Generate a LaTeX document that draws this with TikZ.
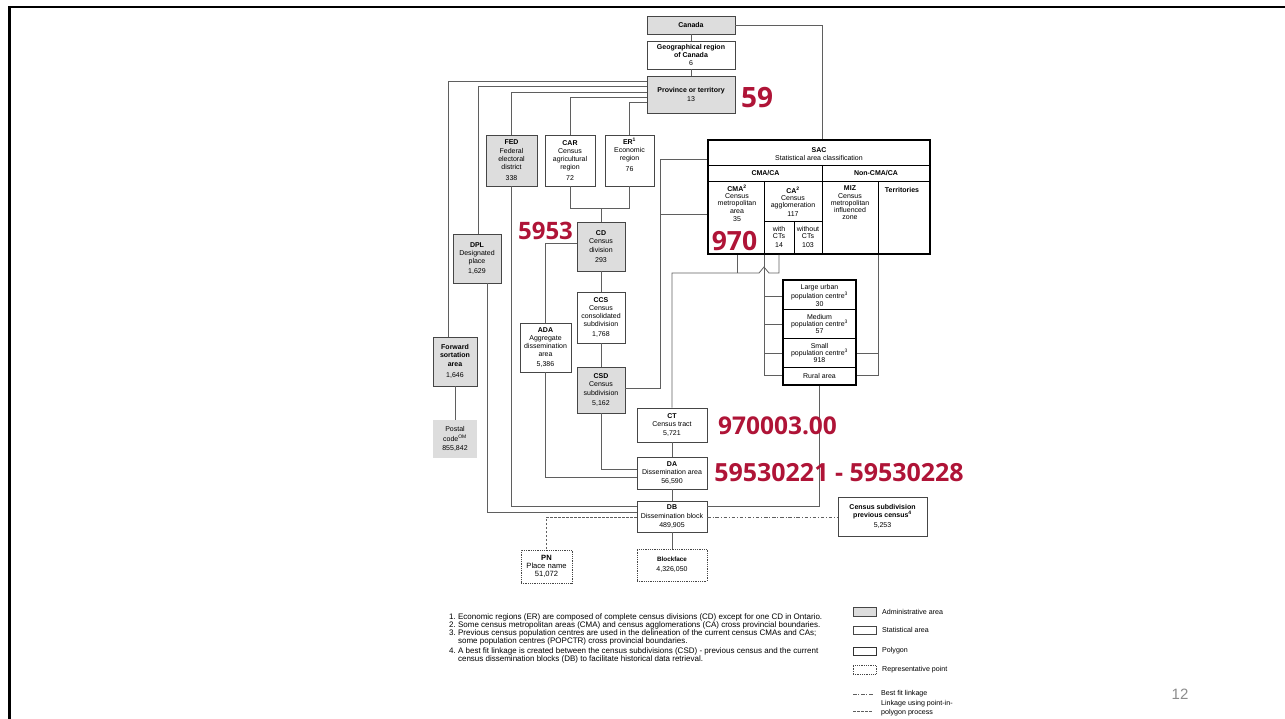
\documentclass[tikz,border=0pt]{standalone}
\usepackage{fontspec}
\setmainfont{Liberation Sans}
\newfontfamily\redfont{Open Sans}
\definecolor{admfill}{RGB}{221,221,221}
\definecolor{boxc}{RGB}{70,70,70}
\definecolor{linec}{RGB}{95,95,95}
\definecolor{redlab}{RGB}{175,20,55}
\definecolor{pagegray}{RGB}{140,140,140}
\begin{document}
\begin{tikzpicture}[x=1pt,y=-1pt,
  box/.style={draw=boxc,line width=0.75pt,inner sep=0pt,align=center,font=\fontsize{7}{8.2}\selectfont},
  adm/.style={box,fill=admfill},
  stat/.style={box,fill=white},
  rep/.style={box,draw=boxc,dash pattern=on 0.7pt off 1.1pt},
  heavy/.style={draw=black,line width=1.5pt,inner sep=0pt},
  lbl/.style={inner sep=0pt,align=center,font=\fontsize{7}{7.2}\selectfont},
  lgtext/.style={inner sep=0pt,anchor=west,align=left,font=\fontsize{7.1}{8.5}\selectfont},
  conn/.style={draw=linec,line width=0.8pt},
  inner/.style={draw=black,line width=0.9pt},
  redlbl/.style={inner sep=0pt,text=redlab,font={\redfont\bfseries\fontsize{25}{25}\selectfont}},
  dashdotline/.style={draw=linec,line width=0.8pt,dash pattern=on 3.5pt off 1.8pt on 1pt off 1.8pt},
  dashline/.style={draw=linec,line width=0.8pt,dash pattern=on 2.5pt off 1.5pt}]
\useasboundingbox (0,0) rectangle (1285,719);

% slide frame
\coordinate (frTR) at (1285,7);
\coordinate (frTL) at (9.5,7);
\coordinate (frBL) at (9.5,719);
\draw[line width=2.5pt,draw=black] (frTR) -- (frTL) -- (frBL);

% ---------- boxes ----------
\node[adm,minimum width=88pt,minimum height=18pt] (canada) at (691,25) {\textbf{Canada}};
\node[stat,minimum width=88pt,minimum height=28pt] (geo) at (691,55) {\textbf{Geographical region}\\\textbf{of Canada}\\6};
\node[adm,minimum width=88pt,minimum height=37pt] (prov) at (691,94.5) {\textbf{Province or territory}\\13};

\node[adm,minimum width=51pt,minimum height=51pt] (fed) at (511.5,160.5) {\textbf{FED}\\Federal\\electoral\\district\\[3pt]338};
\node[stat,minimum width=50pt,minimum height=51pt] (car) at (570,160.5) {\textbf{CAR}\\Census\\agricultural\\region\\[3pt]72};
\node[stat,minimum width=49pt,minimum height=51pt] (er) at (629.5,160.5) {\textbf{ER\textsuperscript{1}}\\Economic\\region\\[3pt]76\\[3pt]};

\node[adm,minimum width=48pt,minimum height=49pt] (cd) at (601,246.5) {\textbf{CD}\\Census\\division\\[2pt]293};
\node[stat,minimum width=48pt,minimum height=51pt] (ccs) at (601,317.5) {\textbf{CCS}\\Census\\consolidated\\subdivision\\[2pt]1,768};
\node[adm,minimum width=48pt,minimum height=46pt] (csd) at (601,390) {\textbf{CSD}\\Census\\subdivision\\[2pt]5,162};

\node[adm,minimum width=48pt,minimum height=49pt] (dpl) at (477,258.5) {\textbf{DPL}\\Designated\\place\\[2pt]1,629};
\node[adm,minimum width=44pt,minimum height=49pt] (fsa) at (455,361.5) {\textbf{Forward}\\\textbf{sortation}\\\textbf{area}\\[3pt]1,646};
\node[box,draw=none,fill=admfill,minimum width=44pt,minimum height=38pt,font=\fontsize{7}{9.5}\selectfont] (postal) at (455,439) {Postal\\code\textsuperscript{OM}\\855,842};
\node[stat,minimum width=51pt,minimum height=49pt] (ada) at (545.5,347.5) {\textbf{ADA}\\Aggregate\\dissemination\\area\\[2pt]5,386};

\node[stat,minimum width=70pt,minimum height=34pt] (ct) at (672,425) {\textbf{CT}\\Census tract\\5,721};
\node[stat,minimum width=70pt,minimum height=32pt,font=\fontsize{7}{8.6}\selectfont] (da) at (672,473) {\textbf{DA}\\Dissemination area\\56,590};
\node[stat,minimum width=70pt,minimum height=31pt,font=\fontsize{7}{8.8}\selectfont] (db) at (672,516.5) {\textbf{DB}\\Dissemination block\\489,905};
\node[rep,minimum width=70pt,minimum height=32pt] (bf) at (672,565) {\textbf{\fontsize{6.3}{8}\selectfont Blockface}\\[2pt]4,326,050};
\node[rep,minimum width=51pt,minimum height=33pt,font=\fontsize{7.6}{8}\selectfont] (pn) at (546.5,566.5) {\textbf{PN}\\Place name\\51,072};
\node[stat,minimum width=89pt,minimum height=39pt] (csdprev) at (882.5,516.5) {\textbf{Census subdivision}\\\textbf{previous census\textsuperscript{4}}\\[2pt]5,253};

% SAC block
\node[heavy,fill=white,minimum width=222pt,minimum height=114pt] (sac) at (819,197) {};
\draw[inner] (sac.west |- 0,165) -- (sac.east |- 0,165);
\draw[inner] (sac.west |- 0,181) -- (sac.east |- 0,181);
\draw[inner] (822,165) -- (822,0 |- sac.south);
\draw[inner] (764,181) -- (764,0 |- sac.south);
\draw[inner] (878,181) -- (878,0 |- sac.south);
\draw[inner] (764,221) -- (822,221);
\draw[inner] (794,221) -- (794,0 |- sac.south);
\node[lbl] (sactitle) at (819,154) {\textbf{SAC}\\Statistical area classification};
\node[lbl] (cmaca) at (765.5,173) {\textbf{CMA/CA}};
\node[lbl] (noncma) at (876,173) {\textbf{Non-CMA/CA}};
\node[lbl] (cma) at (737,203.5) {\textbf{CMA\textsuperscript{2}}\\Census\\metropolitan\\area\\[1.5pt]35};
\node[lbl] (ca) at (793,201.5) {\textbf{CA\textsuperscript{2}}\\Census\\agglomeration\\[1pt]117};
\node[lbl] (withct) at (779,237) {with\\CTs\\[1.5pt]14};
\node[lbl] (withoutct) at (808,237) {without\\CTs\\[1.5pt]103};
\node[lbl] (miz) at (850,203) {\textbf{MIZ}\\Census\\metropolitan\\influenced\\zone};
\node[lbl] (terr) at (902,190) {\textbf{Territories}};

% population centres block
\node[heavy,fill=white,minimum width=73pt,minimum height=105pt] (pop) at (819.5,332.5) {};
\draw[inner] (pop.west |- 0,309) -- (pop.east |- 0,309);
\draw[inner] (pop.west |- 0,338) -- (pop.east |- 0,338);
\draw[inner] (pop.west |- 0,367) -- (pop.east |- 0,367);
\node[lbl] (large) at (819.5,295.5) {Large urban\\population centre\textsuperscript{3}\\30};
\node[lbl] (medium) at (819.5,324) {Medium\\population centre\textsuperscript{3}\\57};
\node[lbl] (small) at (819.5,353) {Small\\population centre\textsuperscript{3}\\918};
\node[lbl] (rural) at (819.5,376) {Rural area};

% ---------- connectors ----------
\draw[conn] (canada.east) -| (822,0 |- sac.north);
\draw[conn] (canada.south) -- (geo.north);
\draw[conn] (geo.south) -- (prov.north);
\draw[conn] (prov.west |- 0,81) -| (448,0 |- fsa.north);
\draw[conn] (prov.west |- 0,86) -| (478,0 |- dpl.north);
\draw[conn] (prov.west |- 0,92) -| (fed.north);
\draw[conn] (prov.west |- 0,97) -| (car.north);
\draw[conn] (prov.west |- 0,102) -| (er.north);
\draw[conn] (car.south) -- (car.south |- 0,208) -- (er.south |- 0,208) -- (er.south);
\draw[conn] (cd.north) -- (cd.north |- 0,208);
\draw[conn] (cd.south) -- (ccs.north);
\draw[conn] (ccs.south) -- (csd.north);
\draw[conn] (cd.west |- 0,243) -| (ada.north);
\draw[conn] (fsa.south) -- (postal.north);
\draw[conn] (fed.south) |- (db.west |- 0,506);
\draw[conn] (487,0 |- dpl.south) |- (db.west |- 0,512);
\draw[conn] (ada.south) |- (da.west |- 0,477);
\draw[conn] (csd.south) |- (da.west |- 0,469);
\draw[conn] (csd.east |- 0,388) -| (660,159) -- (sac.west |- 0,159);
\draw[conn] (660,214) -- (sac.west |- 0,214);
\draw[conn] (ct.north) -- (ct.north |- 0,273) -- (759,273) -- (764,267) -- (769,273) -- (779,273) -- (779,0 |- sac.south);
\draw[conn] (737,273) -- (737,0 |- sac.south);
\draw[conn] (764,0 |- sac.south) -- (764,375) -- (pop.west |- 0,375);
\draw[conn] (764,296) -- (pop.west |- 0,296);
\draw[conn] (764,324) -- (pop.west |- 0,324);
\draw[conn] (764,353) -- (pop.west |- 0,353);
\draw[conn] (878,0 |- sac.south) -- (878,375) -- (pop.east |- 0,375);
\draw[conn] (878,353) -- (pop.east |- 0,353);
\draw[conn] (pop.south) |- (db.east |- 0,506);
\draw[conn] (ct.south) -- (da.north);
\draw[conn] (da.south) -- (db.north);
\draw[conn] (db.south) -- (bf.north);
\draw[dashline] (db.west |- 0,517) -| (pn.north);
\draw[dashdotline] (db.east |- 0,517) -- (csdprev.west |- 0,517);

% ---------- red annotations ----------
\node[redlbl,font={\redfont\bfseries\fontsize{28}{28}\selectfont}] (r59) at (757,98) {59};
\node[redlbl,font={\redfont\bfseries\fontsize{24}{24}\selectfont}] (r5953) at (545.5,230.5) {5953};
\node[redlbl,font={\redfont\bfseries\fontsize{26.5}{26.5}\selectfont}] (r970) at (734.5,241) {970};
\node[redlbl,font={\redfont\bfseries\fontsize{24.5}{24.5}\selectfont}] (rct) at (777.5,426) {970003.00};
\node[redlbl] (rda) at (839,472.5) {59530221 - 59530228};

% ---------- footnotes ----------
\node[anchor=north west,inner sep=0pt,font=\fontsize{8}{7.6}\selectfont] (notes) at (449,613) {%
\begin{tabular}{@{}r@{\ }l@{}}
1. & Economic regions (ER) are composed of complete census divisions (CD) except for one CD in Ontario.\\
2. & Some census metropolitan areas (CMA) and census agglomerations (CA) cross provincial boundaries.\\
3. & Previous census population centres are used in the delineation of the current census CMAs and CAs;\\
   & some population centres (POPCTR) cross provincial boundaries.\\[2pt]
4. & A best fit linkage is created between the census subdivisions (CSD) - previous census and the current\\
   & census dissemination blocks (DB) to facilitate historical data retrieval.
\end{tabular}};

% ---------- legend ----------
\node[adm,minimum width=23pt,minimum height=9pt] (lgadm) at (864.5,611.5) {};
\node[lgtext] (lgadmt) at (882,612) {Administrative area};
\node[stat,minimum width=23pt,minimum height=8pt] (lgstat) at (864.5,630) {};
\node[lgtext] (lgstatt) at (882,630) {Statistical area};
\node[stat,line width=1pt,draw=black!80,minimum width=23pt,minimum height=8pt] (lgpoly) at (864.5,651) {};
\node[lgtext] (lgpolyt) at (882,651) {Polygon};
\node[rep,minimum width=23pt,minimum height=9pt] (lgrep) at (864.5,669.5) {};
\node[lgtext] (lgrept) at (882,670) {Representative point};
\coordinate (bfa) at (853,694);
\coordinate (bfb) at (874,694);
\draw[dashdotline] (bfa) -- (bfb);
\node[lgtext] (lgbft) at (881,694) {Best fit linkage};
\coordinate (lka) at (853,711);
\coordinate (lkb) at (873,711);
\draw[dashline] (lka) -- (lkb);
\node[lgtext] (lglkt) at (881,708) {Linkage using point-in-\\polygon process};

% page number
\node[inner sep=0pt,text=pagegray,font=\fontsize{15}{15}\selectfont] (pgnum) at (1180,694) {12};
\end{tikzpicture}
\end{document}
